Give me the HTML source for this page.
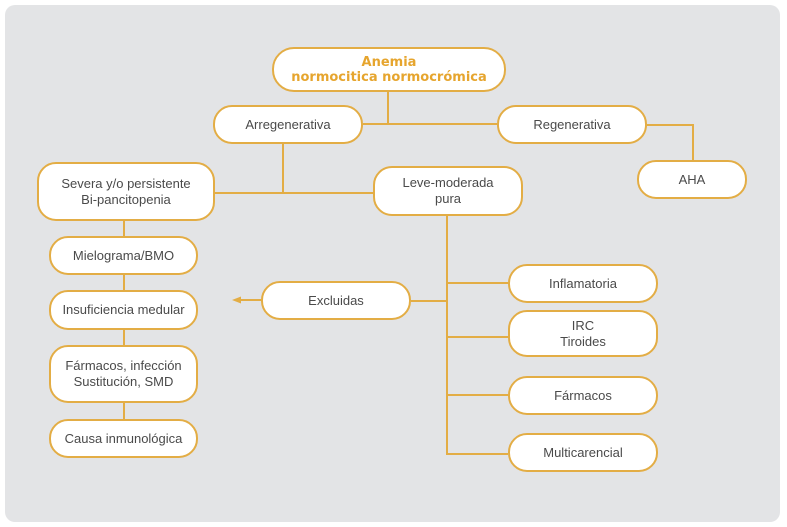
<!DOCTYPE html>
<html><head><meta charset="utf-8"><style>
html,body{margin:0;padding:0;background:#fff;}
body{width:787px;height:527px;position:relative;overflow:hidden;font-family:"Liberation Sans",Arial,sans-serif;}
.panel{position:absolute;left:5px;top:5px;width:775px;height:517px;background:#e3e4e6;border-radius:10px;}
.n{position:absolute;box-sizing:border-box;background:#fff;border:2px solid #e3ad45;border-radius:19px;display:flex;align-items:center;justify-content:center;text-align:center;color:#4a4a4a;font-size:13px;line-height:16px;}
.t{color:#e6a52e;font-family:"DejaVu Sans",Verdana,sans-serif;font-weight:bold;font-size:13px;line-height:15px;border-radius:22px;}
svg{position:absolute;left:0;top:0;}
</style></head><body>
<div class="panel"></div>
<svg width="787" height="527" viewBox="0 0 787 527">
<g stroke="#e3ad45" stroke-width="2" fill="none">
<path d="M388 92V124M363 124H497"/>
<path d="M647 125H693V160"/>
<path d="M283 144V193M215 193H373"/>
<path d="M124 221V236M124 275V290M124 330V345M124 403V419"/>
<path d="M447 216V455M411 301H447M447 283H508M447 337H508M447 395H508M447 454H508"/>
<path d="M261 300H240"/>
</g>
<path d="M232 300L241 296.5V303.5Z" fill="#e3ad45"/>
</svg>
<div class="n t" style="left:272px;top:47px;width:234px;height:45px;">Anemia<br>normocitica normocrómica</div>
<div class="n" style="left:213px;top:105px;width:150px;height:39px;">Arregenerativa</div>
<div class="n" style="left:497px;top:105px;width:150px;height:39px;">Regenerativa</div>
<div class="n" style="left:637px;top:160px;width:110px;height:39px;">AHA</div>
<div class="n" style="left:37px;top:162px;width:178px;height:59px;">Severa y/o persistente<br>Bi-pancitopenia</div>
<div class="n" style="left:373px;top:166px;width:150px;height:50px;">Leve-moderada<br>pura</div>
<div class="n" style="left:49px;top:236px;width:149px;height:39px;">Mielograma/BMO</div>
<div class="n" style="left:49px;top:290px;width:149px;height:40px;">Insuficiencia medular</div>
<div class="n" style="left:261px;top:281px;width:150px;height:39px;">Excluidas</div>
<div class="n" style="left:49px;top:345px;width:149px;height:58px;">Fármacos, infección<br>Sustitución, SMD</div>
<div class="n" style="left:49px;top:419px;width:149px;height:39px;">Causa inmunológica</div>
<div class="n" style="left:508px;top:264px;width:150px;height:39px;">Inflamatoria</div>
<div class="n" style="left:508px;top:310px;width:150px;height:47px;">IRC<br>Tiroides</div>
<div class="n" style="left:508px;top:376px;width:150px;height:39px;">Fármacos</div>
<div class="n" style="left:508px;top:433px;width:150px;height:39px;">Multicarencial</div>
</body></html>
